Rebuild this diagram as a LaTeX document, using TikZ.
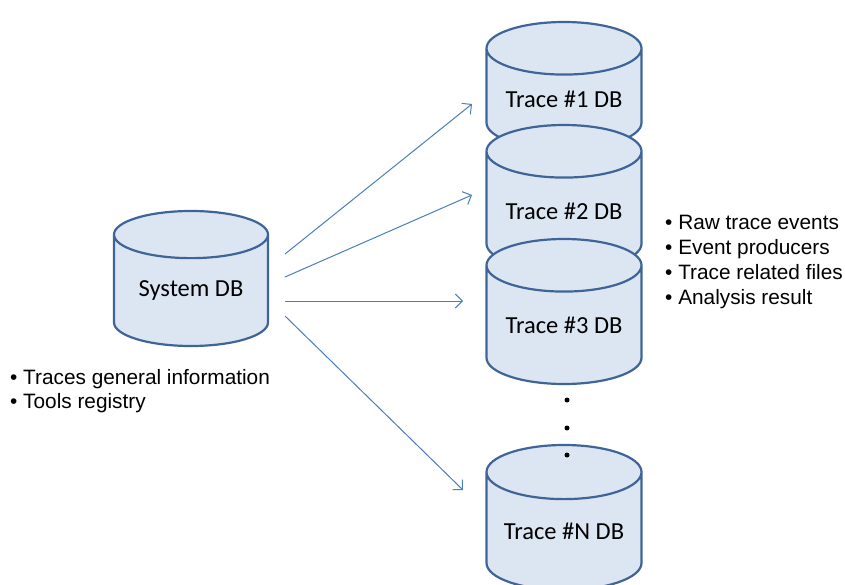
\documentclass[tikz,border=0pt]{standalone}
\usepackage{fontspec}
\newfontfamily\dbfont{Carlito}
\newfontfamily\notefont{Liberation Sans}
\usetikzlibrary{shapes.geometric,arrows.meta}
\definecolor{dbfill}{HTML}{DCE6F2}
\definecolor{dbline}{HTML}{3F6598}
\definecolor{linkblue}{HTML}{4A7EBB}

\begin{document}
\begin{tikzpicture}[x=1pt, y=-1pt,
    db/.style={cylinder, shape border rotate=90, aspect=0.45, draw=dbline, line width=2.2pt,
      fill=dbfill, minimum width=155pt, minimum height=145pt, inner sep=0pt, anchor=shape center,
      font=\dbfont\fontsize{24.5}{28}\selectfont},
    link/.style={draw=linkblue, line width=1pt, -{Straight Barb[length=7pt, width=14pt]}},
    note/.style={align=left, anchor=west, inner sep=0pt, font=\notefont\fontsize{20.8}{25}\selectfont}]
  \useasboundingbox (0,0) rectangle (845,585);

  % databases
  \node[db, minimum height=135pt, minimum width=154pt] (sys) at (191,278.5) {System DB};
  \node[db, minimum height=127pt] (t1) at (564,85.5) {Trace \#1 DB};
  \node[db] (t2) at (564,197.5) {Trace \#2 DB};
  \node[db] (t3) at (564,311.5) {Trace \#3 DB};
  \node[db] (tn) at (564,517.5) {Trace \#N DB};

  % the ones in between
  \foreach \y in {400,428,455}
    \fill (567,\y) circle (2.5);

  % links
  \path
    ([xshift=94pt, yshift=24.5pt]sys.shape center) edge[link] ([xshift=-92pt, yshift=-18.5pt]t1.shape center)
    ([xshift=94pt, yshift=1.5pt]sys.shape center) edge[link] ([xshift=-92pt, yshift=2.5pt]t2.shape center)
    ([xshift=94pt, yshift=-22.5pt]sys.shape center) edge[link] ([xshift=-101pt, yshift=10.5pt]t3.shape center)
    ([xshift=94pt, yshift=-37.5pt]sys.shape center) edge[link] ([xshift=-101pt, yshift=27.5pt]tn.shape center);

  % contents
  \node[note] (sysinfo) at (10,391) {\textbullet\ Traces general information\\[-1pt]\textbullet\ Tools registry};
  \node[note] (traceinfo) at (665,262.5) {\textbullet\ Raw trace events\\\textbullet\ Event producers\\\textbullet\ Trace related files\\\textbullet\ Analysis result};
\end{tikzpicture}
\end{document}
